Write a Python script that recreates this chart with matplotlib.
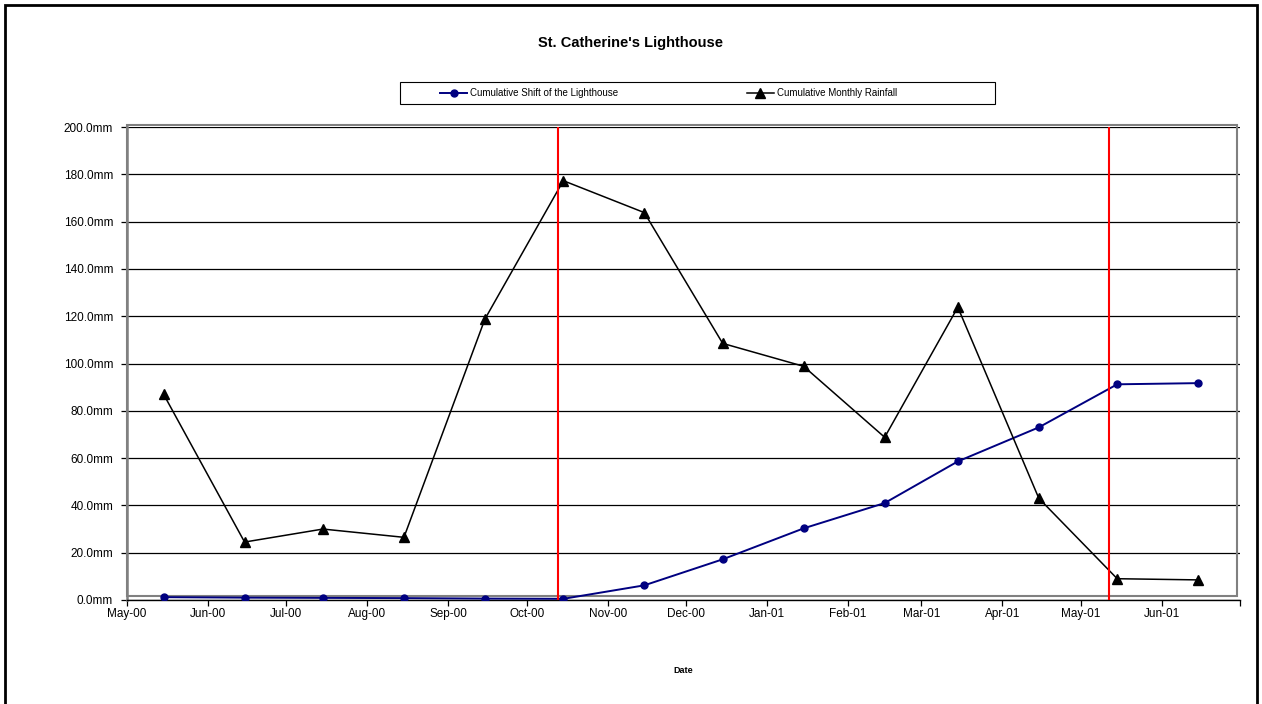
"""
St. Catherine's Lighthouse: cumulative shift vs cumulative monthly rainfall
"""

import datetime as dt
import numpy as np
import matplotlib
matplotlib.use("Agg")
import matplotlib.pyplot as plt
import matplotlib.dates as mdates
from matplotlib.patches import Rectangle

plt.rcParams['font.family'] = ['Liberation Sans', 'DejaVu Sans']

# monthly readings, taken mid-month
months = [(2000, 5), (2000, 6), (2000, 7), (2000, 8), (2000, 9), (2000, 10),
          (2000, 11), (2000, 12), (2001, 1), (2001, 2), (2001, 3), (2001, 4),
          (2001, 5), (2001, 6)]
shift_mm = [1.2, 1.0, 0.9, 0.8, 0.6, 0.5, 6.2, 17.2, 30.3, 41.0, 58.6, 73.0,
            91.2, 91.7]
rainfall_mm = [87.0, 24.5, 30.0, 26.5, 118.8, 177.3, 163.8, 108.5, 98.8, 68.8,
               123.8, 43.0, 9.0, 8.5]

# event markers (red verticals)
event_dates = [dt.date(2000, 10, 13), dt.date(2001, 5, 12)]

y_ticks = [0, 20, 40, 60, 80, 100, 120, 140, 160, 180, 200]
y_labels = ['0.0mm', '20.0mm', '40.0mm', '60.0mm', '80.0mm', '100.0mm',
            '120.0mm', '140.0mm', '160.0mm', '180.0mm', '200.0mm']

dates = [dt.date(y, m, 15) for y, m in months]

fig = plt.figure(figsize=(12.62, 7.04), dpi=100)
ax = fig.add_axes([127 / 1262, 1 - 600 / 704, 1113 / 1262, 473 / 704])

ax.plot(dates, shift_mm, color='#000080', linewidth=1.4, marker='o',
        markersize=5, label='Cumulative Shift of the Lighthouse', zorder=4)
ax.plot(dates, rainfall_mm, color='black', linewidth=1.1, marker='^',
        markersize=6.5, label='Cumulative Monthly Rainfall', zorder=4)

for d in event_dates:
    ax.axvline(d, color='red', linewidth=1.5, zorder=5)

ax.set_xlim(dt.date(2000, 5, 1), dt.date(2001, 7, 1))
ax.set_ylim(0, 200)
ax.set_yticks(y_ticks)
ax.set_yticklabels(y_labels)
ax.xaxis.set_major_locator(mdates.MonthLocator())


def month_label(x, pos):
    d = mdates.num2date(x)
    # the closing tick (Jul-01) carries no label
    if (d.year, d.month) == (2001, 7):
        return ''
    return d.strftime('%b-%y')


ax.xaxis.set_major_formatter(plt.FuncFormatter(month_label))

ax.yaxis.grid(True, color='black', linewidth=0.9)
ax.set_axisbelow(True)
ax.tick_params(axis='both', labelsize=8.5, direction='out', length=4,
               width=0.9, color='black', pad=6)
ax.tick_params(axis='x', pad=2)

for s in ['top', 'right']:
    ax.spines[s].set_visible(False)
ax.spines['bottom'].set_color('black')
ax.spines['bottom'].set_linewidth(1.0)
ax.spines['left'].set_color('#808080')
ax.spines['left'].set_linewidth(1.8)

# gray plot-area frame
ax.add_patch(Rectangle((0, 0.008), 0.9975, 0.997, transform=ax.transAxes,
                       fill=False, edgecolor='#808080', linewidth=1.5,
                       clip_on=False, zorder=1))

ax.set_xlabel('Date', fontsize=6.5, fontweight='bold', labelpad=33)

fig.text(631 / 1262, 1 - 43 / 704, "St. Catherine's Lighthouse",
         ha='center', va='center', fontsize=10.5, fontweight='bold')

# legend entries, with a separate frame around them
fig.legend(loc='center left', ncol=2, fontsize=7,
           bbox_to_anchor=(440 / 1262, 1 - 93 / 704),
           frameon=False, borderaxespad=0, borderpad=0,
           handlelength=2.8, handletextpad=0.3, columnspacing=13.2)
fig.patches.append(Rectangle((400 / 1262, 1 - 104 / 704), 595 / 1262, 22 / 704,
                             transform=fig.transFigure, fill=False,
                             edgecolor='black', linewidth=0.8))

# outer chart border
fig.patches.append(Rectangle((5 / 1262, -0.02), 1252 / 1262, 1.02 - 5 / 704,
                             transform=fig.transFigure, fill=False,
                             edgecolor='black', linewidth=2))

plt.savefig('out.png', dpi=100)
